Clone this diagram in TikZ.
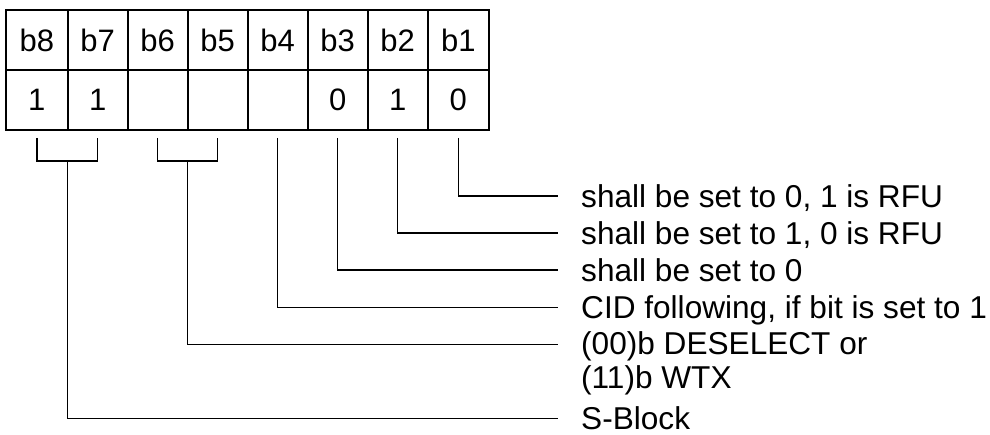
\documentclass[tikz,border=0pt]{standalone}
\usepackage{fontspec}
\setmainfont{Liberation Sans}
\usetikzlibrary{calc}
\begin{document}
\begin{tikzpicture}[x=1pt,y=-1pt,
  cell/.style={draw,line width=1.7pt,minimum height=60pt,inner sep=0pt,font=\fontsize{31}{34}\selectfont},
  conn/.style={line width=1.3pt},
  lbl/.style={anchor=base west,inner sep=0pt,font=\fontsize{31.6}{35}\selectfont}]
\useasboundingbox (0,0) rectangle (990,434);
% top row
\node[cell,minimum width=61.7pt] (c8) at (36.85,40) {b8};
\node[cell,minimum width=60pt] (c7) at (97.7,40) {b7};
\node[cell,minimum width=60pt] (c6) at (157.7,40) {b6};
\node[cell,minimum width=60pt] (c5) at (217.7,40) {b5};
\node[cell,minimum width=60pt] (c4) at (277.7,40) {b4};
\node[cell,minimum width=60pt] (c3) at (337.7,40) {b3};
\node[cell,minimum width=60pt] (c2) at (397.7,40) {b2};
\node[cell,minimum width=61.3pt] (c1) at (458.35,40) {b1};
% value row
\node[cell,minimum width=61.7pt] (v8) at (36.85,100) {1};
\node[cell,minimum width=60pt] (v7) at (97.7,100) {1};
\node[cell,minimum width=60pt] (v6) at (157.7,100) {};
\node[cell,minimum width=60pt] (v5) at (217.7,100) {};
\node[cell,minimum width=60pt] (v4) at (277.7,100) {};
\node[cell,minimum width=60pt] (v3) at (337.7,100) {0};
\node[cell,minimum width=60pt] (v2) at (397.7,100) {1};
\node[cell,minimum width=61.3pt] (v1) at (458.35,100) {0};
% connector ends
\coordinate (e1) at (558,196);
\coordinate (e2) at (558,233);
\coordinate (e3) at (558,270);
\coordinate (e4) at (558,307.5);
\coordinate (e5) at (558,344.5);
\coordinate (e6) at (558,418.5);
% labels
\node[lbl] (t1) at ($(e1)+(23,11)$) {shall be set to 0, 1 is RFU};
\node[lbl] (t2) at ($(e2)+(23,11)$) {shall be set to 1, 0 is RFU};
\node[lbl] (t3) at ($(e3)+(23,11)$) {shall be set to 0};
\node[lbl] (t4) at ($(e4)+(23,10.5)$) {CID following, if bit is set to 1};
\node[lbl] (t5) at ($(e5)+(23,10)$) {(00)b DESELECT or};
\node[lbl] (t5b) at ($(e5)+(23,44)$) {(11)b WTX};
\node[lbl] (t6) at ($(e6)+(23,10.5)$) {S-Block};
% single bit connectors
\draw[conn] ($(v1.south)+(0,7)$) |- (e1);
\draw[conn] ($(v2.south)+(0,7)$) |- (e2);
\draw[conn] ($(v3.south)+(0,7)$) |- (e3);
\draw[conn] ($(v4.south)+(0,7)$) |- (e4);
% brackets
\coordinate (m65) at ($(v6.south)!0.5!(v5.south)+(0,30)$);
\draw[conn] ($(v6.south)+(0,7)$) -- ($(v6.south)+(0,30)$) -- ($(v5.south)+(0,30)$) -- ($(v5.south)+(0,7)$);
\draw[conn] (m65) |- (e5);
\coordinate (m87) at ($(v8.south)!0.5!(v7.south)+(0,30)$);
\draw[conn] ($(v8.south)+(0,7)$) -- ($(v8.south)+(0,30)$) -- ($(v7.south)+(0,30)$) -- ($(v7.south)+(0,7)$);
\draw[conn] (m87) |- (e6);
\end{tikzpicture}
\end{document}
